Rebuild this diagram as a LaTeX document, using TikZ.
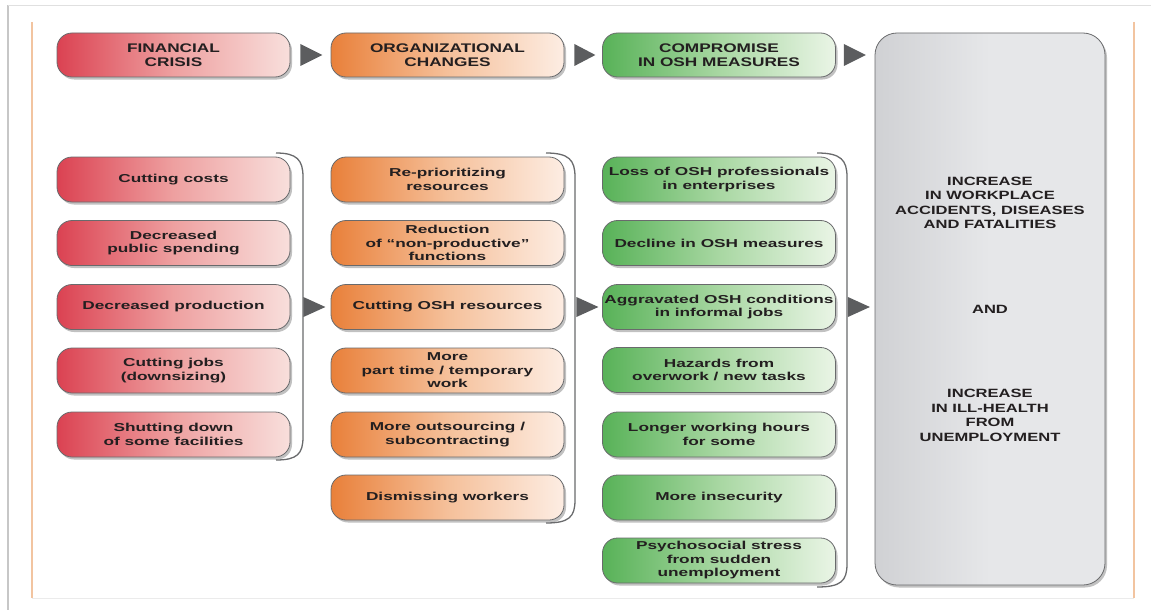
\documentclass[tikz,border=0pt]{standalone}
\usepackage{fontspec}
\usetikzlibrary{shadows}
\newfontfamily\boxfont{Liberation Sans}[FakeStretch=1.5]
\newfontfamily\capfont{Liberation Sans}[FakeStretch=1.38]

\definecolor{redL}{RGB}{219,66,82}
\definecolor{redM}{RGB}{238,160,160}
\definecolor{redR}{RGB}{248,223,220}
\definecolor{oraL}{RGB}{233,128,58}
\definecolor{oraM}{RGB}{245,192,154}
\definecolor{oraR}{RGB}{253,237,227}
\definecolor{grnL}{RGB}{88,178,88}
\definecolor{grnM}{RGB}{168,215,162}
\definecolor{grnR}{RGB}{234,245,230}
\definecolor{gryL}{RGB}{208,209,212}
\definecolor{gryR}{RGB}{230,231,233}
\definecolor{edgegray}{RGB}{105,106,108}
\definecolor{tipgray}{RGB}{92,93,95}
\definecolor{ink}{RGB}{35,31,32}
\definecolor{frame}{RGB}{242,196,160}

\begin{document}
\begin{tikzpicture}[x=1pt,y=-1pt,
    box/.style={draw=edgegray, line width=.8pt, rounded corners=15pt,
        minimum width=233pt, minimum height=45pt, inner sep=1pt, align=center, text=ink,
        font=\boxfont\bfseries\fontsize{11.5}{13.5}\selectfont,
        drop shadow={shadow xshift=2pt, shadow yshift=-2.5pt, opacity=.35, fill=black!70}},
    head/.style={box, minimum height=44pt, font=\capfont\bfseries\fontsize{12.5}{14}\selectfont},
    redbox/.style={left color=redL, right color=redR, middle color=redM},
    orabox/.style={left color=oraL, right color=oraR, middle color=oraM},
    grnbox/.style={left color=grnL, right color=grnR, middle color=grnM},
    brace/.style={draw=edgegray, line width=1.3pt},
    tip/.style={fill=tipgray}]
    \useasboundingbox (0,0) rectangle (1151,610);
    % page frame
    \draw[black!22, line width=1.5pt](8,5)--(8,610);
    \draw[black!12](8,5)--(1151,5);
    \draw[black!8](32,598)--(1134,598);
    \draw[frame, line width=2pt](32,22)--(32,598);
    \draw[frame, line width=2pt](1134,22)--(1134,598);

    % header row
    \node[head, redbox](fin) at (173.5,55){FINANCIAL\\CRISIS};
    \node[head, orabox](org) at (447.5,55){ORGANIZATIONAL\\CHANGES};
    \node[head, grnbox](comp) at (719,55){COMPROMISE\\IN OSH MEASURES};
    \node[box, left color=gryL, right color=gryR, middle color=gryR, minimum width=230pt, minimum height=552pt,
        rounded corners=22pt, font=\capfont\bfseries\fontsize{12}{14.5}\selectfont](incr) at (990,309)
        {INCREASE\\IN WORKPLACE\\ACCIDENTS, DISEASES\\AND FATALITIES\\[70pt]AND\\[70pt]INCREASE\\IN ILL-HEALTH\\FROM\\UNEMPLOYMENT};

    % causes
    \node[box, redbox](cost) at (173.5,179.5){Cutting costs};
    \node[box, redbox](spend) at (173.5,243){Decreased\\public spending};
    \node[box, redbox](prod) at (173.5,307){Decreased production};
    \node[box, redbox](jobs) at (173.5,370.5){Cutting jobs\\(downsizing)};
    \node[box, redbox](shut) at (173.5,434.5){Shutting down\\of some facilities};

    % organizational changes
    \node[box, orabox](prio) at (447.5,179.5){Re-prioritizing\\resources};
    \node[box, orabox](reduc) at (447.5,243){Reduction\\of “non-productive”\\functions};
    \node[box, orabox](oshres) at (447.5,307){Cutting OSH resources};
    \node[box, orabox](part) at (447.5,370.5){More\\part time / temporary\\work};
    \node[box, orabox](outs) at (447.5,434.5){More outsourcing /\\subcontracting};
    \node[box, orabox](dism) at (447.5,497.5){Dismissing workers};

    % compromise in OSH
    \node[box, grnbox](loss) at (719,179.5){Loss of OSH professionals\\in enterprises};
    \node[box, grnbox](decl) at (719,243){Decline in OSH measures};
    \node[box, grnbox](aggr) at (719,307){Aggravated OSH conditions\\in informal jobs};
    \node[box, grnbox](haz) at (719,370){Hazards from\\overwork / new tasks};
    \node[box, grnbox](hours) at (719,434.5){Longer working hours\\for some};
    \node[box, grnbox](insec) at (719,497.5){More insecurity};
    \node[box, grnbox](stress) at (719,560.5){Psychosocial stress\\from sudden\\unemployment};

    % brackets
    \draw[brace](276,153) .. controls (297,153) and (303,160) .. (303,177)--(303,437)
        .. controls (303,454) and (297,460) .. (276,460);
    \draw[brace](546,153) .. controls (569,153) and (575,160) .. (575,177)--(575,500)
        .. controls (575,517) and (569,523) .. (546,523);
    \draw[brace](817,153) .. controls (841,153) and (847,160) .. (847,177)--(847,564)
        .. controls (847,581) and (841,587) .. (817,587);

    % arrow heads
    \fill[tip]([xshift=10pt]fin.east)--++(0,-11)--++(22,11)--++(-22,11)--cycle;
    \fill[tip]([xshift=10pt]org.east)--++(0,-11)--++(21,11)--++(-21,11)--cycle;
    \fill[tip]([xshift=8pt]comp.east)--++(0,-11)--++(22,11)--++(-22,11)--cycle;
    \fill[tip]([xshift=13pt]prod.east)--++(0,-10)--++(22,10)--++(-22,10)--cycle;
    \fill[tip]([xshift=12pt]oshres.east)--++(0,-10)--++(22,10)--++(-22,10)--cycle;
    \fill[tip]([xshift=12pt]aggr.east)--++(0,-10)--++(22,10)--++(-22,10)--cycle;
\end{tikzpicture}
\end{document}
